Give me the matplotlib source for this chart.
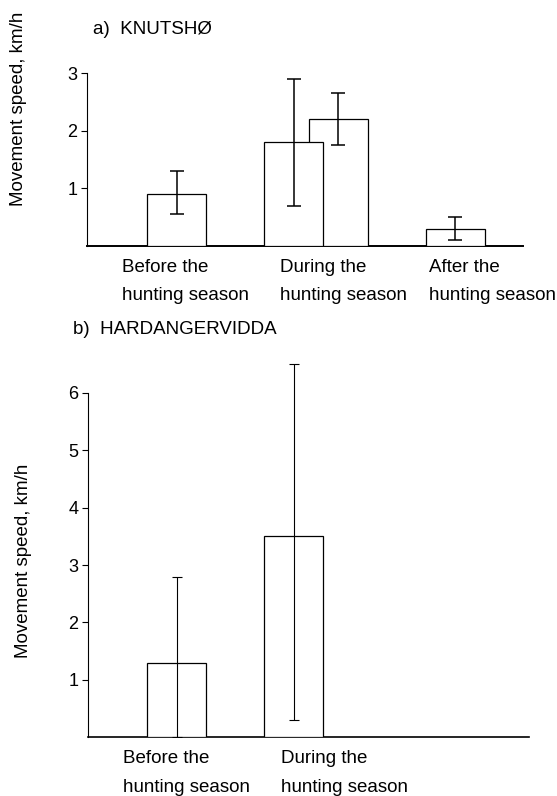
import matplotlib as mpl
mpl.use('Agg')
import matplotlib.pyplot as plt

plt.rcParams['font.family'] = ['Liberation Sans', 'DejaVu Sans']

# a) Knutsho: before, during (two bars), after
knut_cat = [0, 1, 1, 2]
knut_mean = [0.9, 1.8, 2.2, 0.3]
knut_low = [0.55, 0.7, 1.75, 0.1]
knut_high = [1.3, 2.9, 2.65, 0.5]
knut_labels = [["Before the", "hunting season"],
               ["During the", "hunting season"],
               ["After the", "hunting season"]]

# b) Hardangervidda: before, during
hard_cat = [0, 1]
hard_mean = [1.3, 3.5]
hard_low = [0.0, 0.3]
hard_high = [2.8, 6.5]
hard_labels = [["Before the", "hunting season"],
               ["During the", "hunting season"]]

W = 557
H = 796
BARW = 0.423
PAIR_OFF = 0.16


def bar_positions(cats):
  pos = []
  for i, c in enumerate(cats):
    n = cats.count(c)
    if n == 2:
      k = [j for j, cc in enumerate(cats) if cc == c].index(i)
      pos.append(c - PAIR_OFF if k == 0 else c + PAIR_OFF)
    elif c == 1 and len(cats) == 2:
      # during bar sits at the left slot of the pair
      pos.append(c - PAIR_OFF)
    else:
      pos.append(c)
  return pos


def style_axes(ax, ymax_spine, ticks):
  ax.spines['top'].set_visible(False)
  ax.spines['right'].set_visible(False)
  ax.spines['left'].set_linewidth(0.8)
  ax.spines['bottom'].set_linewidth(1.4)
  ax.spines['left'].set_bounds(0, ymax_spine)
  ax.set_yticks(ticks)
  ax.set_yticklabels([str(t) for t in ticks])
  ax.tick_params(axis='y', direction='out', length=4, width=0.8, pad=3, labelsize=13)
  ax.set_xticks([])


def draw_panel(ax, cats, mean, low, high, labels, label_dx, caps, elw):
  pos = bar_positions(cats)
  for i in range(len(mean)):
    z = 3 - i * 0.1
    ax.bar(pos[i], mean[i], width=BARW, color='white', edgecolor='black', linewidth=0.9, zorder=z)
  yerr = [[m - l for m, l in zip(mean, low)], [h - m for m, h in zip(mean, high)]]
  ax.errorbar(pos, mean, yerr=yerr, fmt='none', ecolor='black', elinewidth=elw,
              capsize=caps, capthick=elw, zorder=5)
  for c, lines in enumerate(labels):
    for k, line in enumerate(lines):
      ax.annotate(line, xy=(c + label_dx[c], 0), xycoords=('data', 'axes fraction'),
                  xytext=(0, -26 - 28.5 * k), textcoords='offset pixels',
                  ha='left', va='baseline', fontsize=13.5)


fig = plt.figure(figsize=(W / 100, H / 100), dpi=100)

# top panel
ax1 = fig.add_axes([87 / W, (H - 245.8) / H, (523 - 87) / W, 172.5 / H])
ax1.set_xlim(-0.6416, 2.4839)
ax1.set_ylim(0, 3)
style_axes(ax1, 3, [1, 2, 3])
draw_panel(ax1, knut_cat, knut_mean, knut_low, knut_high, knut_labels,
           [-0.392, -0.259, -0.19], 4.7, 1.1)

# bottom panel
ax2 = fig.add_axes([88 / W, (H - 737.3) / H, (529 - 88) / W, 379 / H])
ax2.set_xlim(-0.636, 2.525)
ax2.set_ylim(0, 6.6)
style_axes(ax2, 6, [1, 2, 3, 4, 5, 6])
ax2.spines['bottom'].set_linewidth(1.2)
draw_panel(ax2, hard_cat, hard_mean, hard_low, hard_high, hard_labels,
           [-0.385, -0.254], 3.6, 0.8)

fig.text(93 / W, 1 - 34 / H, "a)  KNUTSHØ", fontsize=13.5, ha='left', va='baseline')
fig.text(73 / W, 1 - 333.5 / H, "b)  HARDANGERVIDDA", fontsize=13.5, ha='left', va='baseline')

fig.text(19 / W, 1 - 109 / H, "Movement speed, km/h", rotation=90, fontsize=13.5,
         ha='center', va='center')
fig.text(23 / W, 1 - 561 / H, "Movement speed, km/h", rotation=90, fontsize=13.5,
         ha='center', va='center')

plt.savefig("out.png", dpi=100)
